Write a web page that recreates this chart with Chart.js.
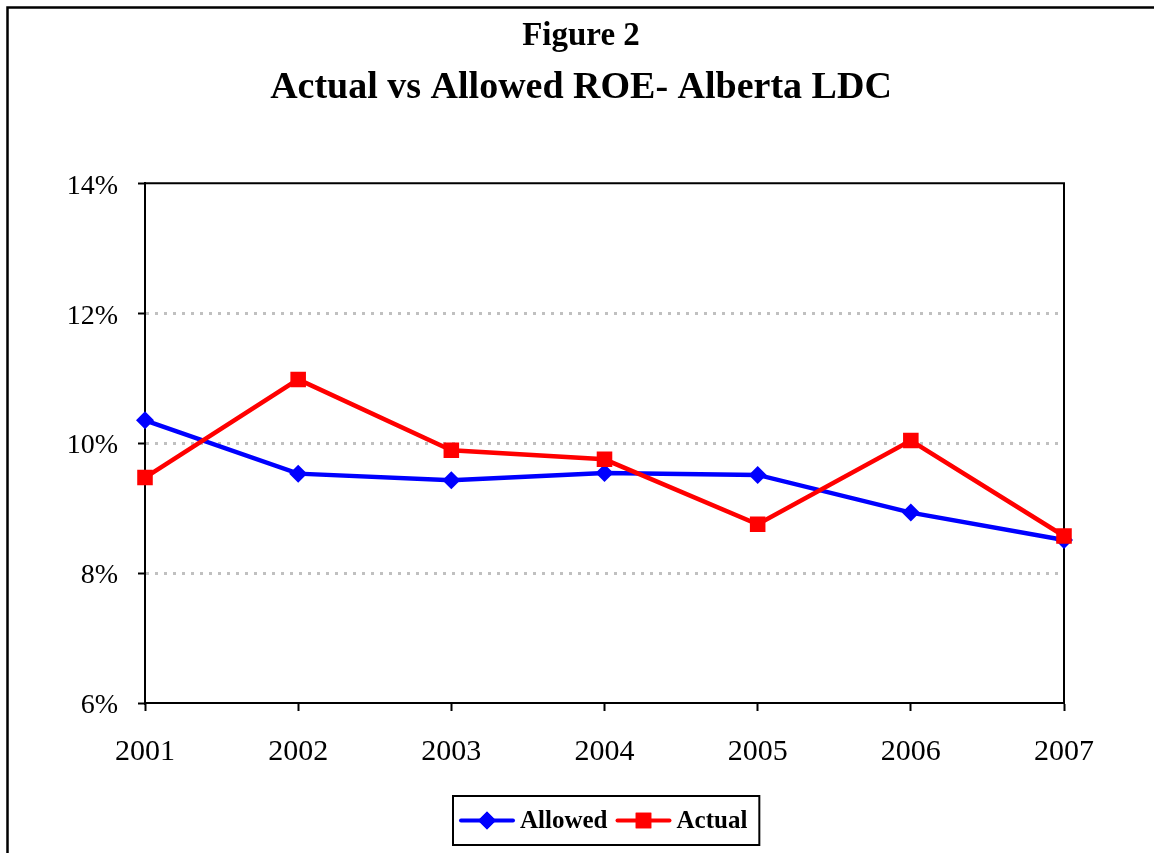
<!DOCTYPE html>
<html>
<head>
<meta charset="utf-8">
<title>Actual vs Allowed ROE- Alberta LDC</title>
<script src="https://cdn.jsdelivr.net/npm/chart.js@4"></script>
<style>
  html, body { margin: 0; padding: 0; background: #ffffff; }
  #wrap { width: 1154px; height: 853px; position: relative; }
</style>
</head>
<body>
<div id="wrap"><canvas id="roe"></canvas></div>
<script>
// Years on the horizontal axis
const years = ['2001', '2002', '2003', '2004', '2005', '2006', '2007'];
// Return on equity, percent
const allowedROE = [10.35, 9.53, 9.43, 9.54, 9.51, 8.93, 8.51];
const actualROE  = [9.47, 10.98, 9.89, 9.75, 8.75, 10.04, 8.57];
// Vertical axis range and step, percent
const yTicks = { min: 6, max: 14, step: 2 };

const FONT = '"Liberation Serif", "Times New Roman", serif';
const BLUE = '#0000ff';
const RED = '#ff0000';

// Outer frame, plot box (top/right edges) and the boxed legend
const framePlugin = {
  id: 'frame',
  beforeDatasetsDraw(chart) {
    const { ctx, chartArea: a } = chart;
    ctx.save();
    ctx.strokeStyle = '#000';
    ctx.lineWidth = 2;
    ctx.beginPath();
    ctx.moveTo(a.left, a.top);
    ctx.lineTo(a.right, a.top);
    ctx.lineTo(a.right, a.bottom);
    ctx.stroke();
    ctx.restore();
  },
  afterDraw(chart) {
    const { ctx, chartArea: a, width, height } = chart;
    ctx.save();
    // page frame
    ctx.strokeStyle = '#000';
    ctx.lineWidth = 2.5;
    ctx.strokeRect(7.5, 7.5, width + 20, height + 20);

    // legend
    const items = chart.data.datasets.map(ds => ({
      label: ds.label, color: ds.borderColor, style: ds.pointStyle, r: ds.pointRadius
    }));
    ctx.font = 'bold 25px ' + FONT;
    const lineLen = 52, padL = 8, gapT = 7, gapItem = 10, padR = 12;
    let total = padL;
    items.forEach((it, i) => {
      it.w = ctx.measureText(it.label).width;
      total += lineLen + gapT + it.w + (i < items.length - 1 ? gapItem : 0);
    });
    total += padR;
    const boxH = 49;
    const boxL = Math.round((a.left + a.right) / 2 - total / 2) + 2;
    const boxT = a.bottom + 93;
    const cy = boxT + boxH / 2;
    ctx.lineWidth = 2;
    ctx.strokeRect(boxL, boxT, total, boxH);

    let x = boxL + padL;
    items.forEach(it => {
      ctx.strokeStyle = it.color;
      ctx.lineWidth = 4;
      ctx.lineCap = 'round';
      ctx.beginPath();
      ctx.moveTo(x, cy);
      ctx.lineTo(x + lineLen, cy);
      ctx.stroke();
      ctx.fillStyle = it.color;
      Chart.helpers.drawPoint(ctx, { pointStyle: it.style, radius: it.r, rotation: 0, borderWidth: 0 },
        x + lineLen / 2, cy);
      ctx.fill();
      x += lineLen + gapT;
      ctx.fillStyle = '#000';
      ctx.textBaseline = 'middle';
      ctx.textAlign = 'left';
      ctx.fillText(it.label, x, cy + 1);
      x += it.w + gapItem;
    });
    ctx.restore();
  }
};

new Chart(document.getElementById('roe'), {
  type: 'line',
  data: {
    labels: years,
    datasets: [
      {
        label: 'Allowed',
        data: allowedROE,
        borderColor: BLUE,
        backgroundColor: BLUE,
        borderWidth: 4.5,
        pointStyle: 'rectRot',
        pointRadius: 9,
        pointHoverRadius: 9,
        pointBorderWidth: 0,
        tension: 0,
        order: 1
      },
      {
        label: 'Actual',
        data: actualROE,
        borderColor: RED,
        backgroundColor: RED,
        borderWidth: 4.5,
        pointStyle: 'rect',
        pointRadius: 11,
        pointHoverRadius: 11,
        pointBorderWidth: 0,
        tension: 0,
        order: 0
      }
    ]
  },
  options: {
    responsive: true,
    maintainAspectRatio: false,
    animation: false,
    events: [],
    layout: { padding: { left: 15, right: 7, top: 0, bottom: 0 } },
    plugins: {
      legend: { display: false },
      tooltip: { enabled: false },
      title: {
        display: true,
        text: 'Figure 2',
        color: '#000',
        font: { family: FONT, size: 33, weight: 'bold' },
        padding: { top: 17, bottom: 0 }
      },
      subtitle: {
        display: true,
        text: 'Actual vs Allowed ROE- Alberta LDC',
        color: '#000',
        font: { family: FONT, size: 38, weight: 'bold' },
        padding: { top: 9, bottom: 72 }
      }
    },
    scales: {
      x: {
        type: 'category',
        offset: false,
        afterFit(scale) { scale.height = 150; },
        grid: {
          drawOnChartArea: false,
          color: '#000',
          tickColor: '#000',
          tickWidth: 2,
          tickLength: 8
        },
        border: { display: true, color: '#000', width: 2 },
        ticks: {
          color: '#000',
          font: { family: FONT, size: 30 },
          padding: 23,
          maxRotation: 0,
          autoSkip: false
        }
      },
      y: {
        min: yTicks.min,
        max: yTicks.max,
        afterFit(scale) { scale.width = 130; },
        grid: {
          color: ctx => (ctx.tick && (ctx.tick.value === yTicks.min || ctx.tick.value === yTicks.max))
            ? 'rgba(0,0,0,0)' : '#c0c0c0',
          lineWidth: 3,
          tickColor: '#000',
          tickWidth: 2,
          tickLength: 7,
          tickBorderDash: []
        },
        border: { display: true, color: '#000', width: 2, dash: [3, 6] },
        ticks: {
          stepSize: yTicks.step,
          color: '#000',
          font: { family: FONT, size: 28 },
          padding: 20,
          labelOffset: 3,
          callback: v => v + '%'
        }
      },
      // empty right-hand axis: reserves the margin to the right of the plot
      yRight: {
        position: 'right',
        afterFit(scale) { scale.width = 83; },
        grid: { display: false },
        border: { display: false },
        ticks: { display: false }
      }
    }
  },
  plugins: [framePlugin]
});
</script>
</body>
</html>
